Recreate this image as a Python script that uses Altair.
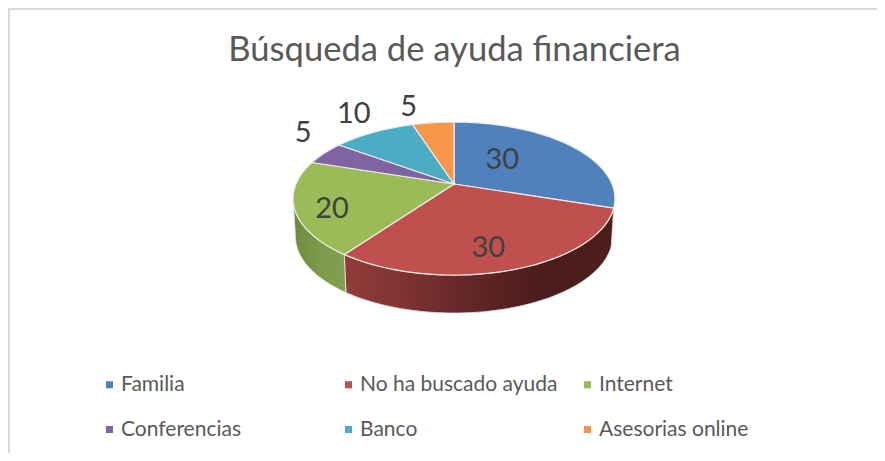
import math
import altair as alt

TITLE = "Búsqueda de ayuda financiera"
categories = ["Familia", "No ha buscado ayuda", "Internet", "Conferencias", "Banco", "Asesorias online"]
values = [30, 30, 20, 5, 10, 5]
colors = ["#4F81BD", "#C0504D", "#9BBB59", "#8064A2", "#4BACC6", "#F79646"]
wall_stops = {
    "No ha buscado ayuda": ["#923C3A", "#7A3230", "#5E2524", "#4A1C1B", "#4E1E1C"],
    "Internet": ["#6F8A40", "#7C9A4B", "#82A04F"],
}
label_shift = [-13, 3.6, -4, 10, 3, -6]      # degrees away from the slice middle
label_radius = [0.5, 0.75, 0.786, 1.385, 1.43, 1.39]

W, H = 869, 445
CX, CY, B, A, K = 446, 176, 158, 73.75, 0.19   # tilted-disc view
DEPTH, SHRINK = 38, 0.985
FONT = "Lato"


def view(deg, r=1.0):
    t = math.radians(deg)
    u, v = r * math.sin(t), -r * math.cos(t)
    d = 1 - K * v
    return CX + B * u / d, CY + A * v / d


def arc(a0, a1, n=60):
    return [view(a0 + (a1 - a0) * i / n) for i in range(n + 1)]


def feature(name, ring):
    ring = [list(p) for p in ring]
    if ring[0] != ring[-1]:
        ring.append(ring[0])
    return {"type": "Feature", "properties": {"name": name},
            "geometry": {"type": "Polygon", "coordinates": [ring]}}


total = sum(values)
edges = [0]
for val in values:
    edges.append(edges[-1] + val / total * 360)

tang = math.degrees(math.acos(-K))
front0, front1 = tang, 360 - tang

tops = []
labels = []
walls = []
for i, name in enumerate(categories):
    a0, a1 = edges[i], edges[i + 1]
    tops.append(feature(name, [view(0, 0)] + arc(a0, a1)))
    lx, ly = view((a0 + a1) / 2 + label_shift[i], label_radius[i])
    labels.append({"lon": lx, "lat": ly, "value": str(values[i])})
    c0, c1 = max(a0, front0), min(a1, front1)
    if name in wall_stops and c1 > c0:
        top = arc(c0, c1)
        low = [(CX + (x - CX) * SHRINK, y + DEPTH) for x, y in top]
        walls.append((name, feature(name, top + low[::-1])))

extent = feature("extent", [(0, 0), (W, 0), (W, H), (0, H)])

layers = [
    alt.Chart(alt.Data(values=[extent])).mark_geoshape(fillOpacity=0, strokeOpacity=0),
]
for name, wall in walls:
    st = wall_stops[name]
    layers.append(
        alt.Chart(alt.Data(values=[wall])).mark_geoshape(
            fill=alt.Gradient(
                gradient="linear", x1=0, x2=1, y1=0, y2=0,
                stops=[alt.GradientStop(color=c, offset=j / (len(st) - 1)) for j, c in enumerate(st)],
            ),
            stroke="#E4E4E4", strokeWidth=0.8,
        )
    )

layers.append(
    alt.Chart(alt.Data(values=tops)).mark_geoshape(stroke="#EDEDED", strokeWidth=1.2).encode(
        color=alt.Color(
            "properties.name:N",
            scale=alt.Scale(domain=categories, range=colors),
            sort=categories,
            legend=alt.Legend(
                title=None, orient="none", legendX=91, legendY=366, columns=3,
                gridAlign="all", columnPadding=19, rowPadding=23,
                symbolType="square", symbolSize=50, symbolStrokeWidth=0,
                labelFont=FONT, labelFontSize=21, labelColor="#595959", labelLimit=300,
                labelOffset=1, direction="horizontal",
            ),
        )
    )
)
layers.append(
    alt.Chart(alt.Data(values=labels)).mark_text(
        font=FONT, fontSize=29, color="#404040", align="center", baseline="middle", dy=2
    ).encode(longitude="lon:Q", latitude="lat:Q", text="value:N")
)
layers.append(
    alt.Chart(alt.Data(values=[{"f": 0}])).mark_rule(color="#D9D9D9", strokeWidth=2).encode(
        x=alt.value(1), y=alt.value(0), y2=alt.value(H)
    )
)
layers.append(
    alt.Chart(alt.Data(values=[{"f": 0}])).mark_rule(color="#D9D9D9", strokeWidth=2).encode(
        x=alt.value(0), x2=alt.value(W), y=alt.value(1)
    )
)

chart = (
    alt.layer(*layers)
    .project(type="identity")
    .properties(
        width=W, height=H, padding=0,
        autosize=alt.AutoSizeParams(type="none"),
        title=alt.TitleParams(
            TITLE, font=FONT, fontSize=34.6, fontWeight="normal", color="#595959",
            anchor="middle", offset=-62, dx=12,
        ),
    )
    .configure_view(stroke=None)
    .configure(background="white")
)
chart.save("out.html", embed_options={"renderer": "svg", "actions": False})
